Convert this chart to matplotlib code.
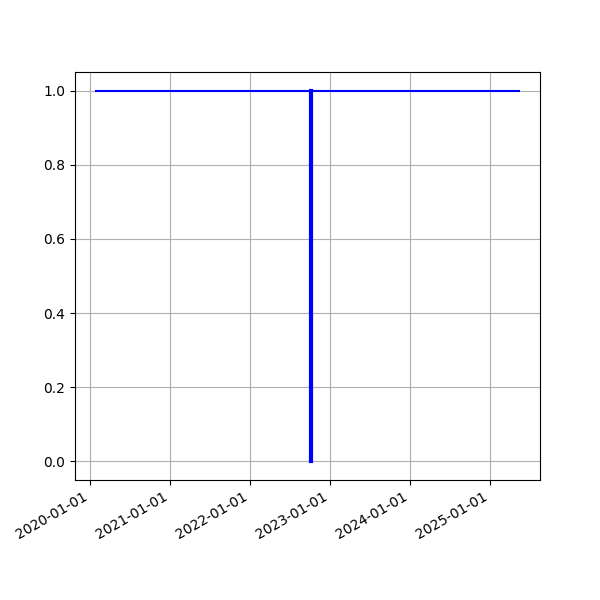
import matplotlib
matplotlib.use("Agg")
import matplotlib.pyplot as plt
import matplotlib.dates as mdates
import numpy as np

h_dates = np.array(["2020-01-29", "2025-05-12"], dtype="datetime64[D]")
h_values = [1.0, 1.0]
v_date = np.datetime64("2022-10-06")
v_values = [0.0, 1.0]

fig, ax = plt.subplots(figsize=(6, 6), dpi=100)
ax.plot(h_dates, h_values, color="blue", linewidth=1.5)
ax.plot([v_date, v_date], v_values, color="blue", linewidth=3)
ax.grid(True)
fig.autofmt_xdate()
ax.xaxis.set_major_formatter(mdates.DateFormatter("%Y-%m-%d"))
fig.savefig("out.png")
